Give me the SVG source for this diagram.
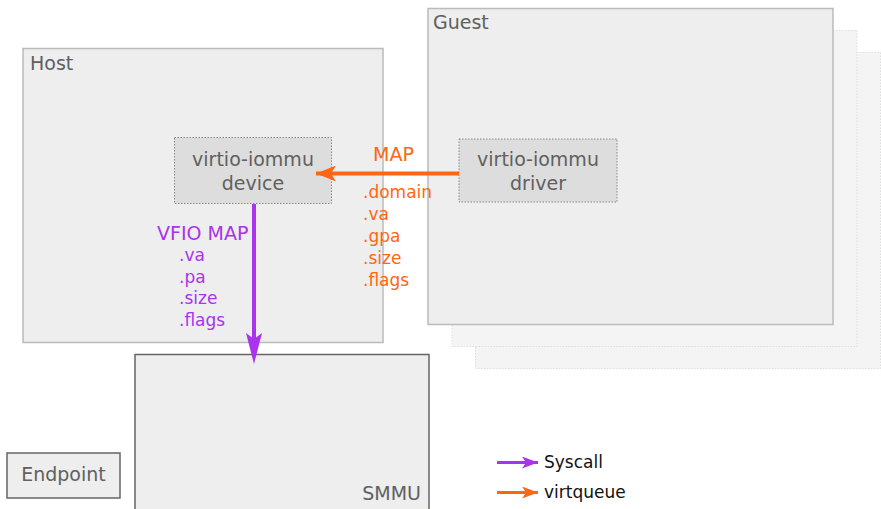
<svg xmlns="http://www.w3.org/2000/svg" width="881" height="509" viewBox="0 0 881 509">
<defs>
<style>
text{font-family:"DejaVu Sans",sans-serif;font-size:19px;fill:#606060}
.f{font-size:17px}
.container{fill:#eeeeee;stroke:#bbbbbb;stroke-width:1.5}
.shadow{fill:#f4f4f4;stroke:#dddddd;stroke-width:1;stroke-dasharray:1.5 1.5}
.comp{fill:#dddddd;stroke:#888;stroke-width:1;stroke-dasharray:1.5 1.5}
.hw{fill:#eeeeee;stroke:#666;stroke-width:1.5}
.or{fill:#ff6611}
.pu{fill:#aa33ee}
.leg{fill:#111;font-size:17px}
</style>
<marker id="ao" viewBox="0 0 20 16" refX="20" refY="8" markerWidth="20" markerHeight="16" markerUnits="userSpaceOnUse" orient="auto"><path d="M0,0 L20,8 L0,16 L5,8 Z" fill="#ff6611"/></marker>
<marker id="apl" viewBox="0 0 16 12" refX="16" refY="6" markerWidth="16" markerHeight="12" markerUnits="userSpaceOnUse" orient="auto"><path d="M0,0 L16,6 L0,12 L4,6 Z" fill="#aa33ee"/></marker>
<marker id="aol" viewBox="0 0 16 12" refX="16" refY="6" markerWidth="16" markerHeight="12" markerUnits="userSpaceOnUse" orient="auto"><path d="M0,0 L16,6 L0,12 L4,6 Z" fill="#ff6611"/></marker>
</defs>
<g id="guest-shadow-2"><rect class="shadow" x="475.5" y="52.5" width="405" height="316"/></g>
<g id="guest-shadow-1"><rect class="shadow" x="452" y="30.5" width="405" height="316"/></g>
<g id="host"><rect class="container" x="23" y="48.5" width="360" height="294"/><text x="30" y="70">Host</text></g>
<g id="guest"><rect class="container" x="428" y="8.5" width="405" height="316"/><text x="433" y="29">Guest</text></g>
<g id="device"><rect class="comp" x="174.5" y="137.5" width="157" height="66"/><text x="253" y="166" text-anchor="middle">virtio-iommu</text><text x="253" y="190" text-anchor="middle">device</text></g>
<g id="driver"><rect class="comp" x="459" y="139" width="158" height="63"/><text x="538" y="166" text-anchor="middle">virtio-iommu</text><text x="538" y="190" text-anchor="middle">driver</text></g>
<g id="smmu"><rect class="hw" x="135" y="354.5" width="294" height="160"/><text x="421" y="500" text-anchor="end">SMMU</text></g>
<g id="endpoint"><rect class="hw" x="7" y="453" width="113" height="45"/><text x="63.5" y="481" text-anchor="middle">Endpoint</text></g>
<g id="connectors">
<line x1="459" y1="173.5" x2="316" y2="173.5" stroke="#ff6611" stroke-width="4" marker-end="url(#ao)"/>
<path d="M254,204 L254,340" stroke="#aa33ee" stroke-width="4" fill="none"/>
<path d="M246,333 L254,364 L262,333 L254,339 Z" fill="#aa33ee"/>
<text class="or" x="373" y="161">MAP</text>
<text class="or f" x="363" y="198">.domain</text>
<text class="or f" x="363" y="220">.va</text>
<text class="or f" x="363" y="242">.gpa</text>
<text class="or f" x="363" y="264">.size</text>
<text class="or f" x="363" y="286">.flags</text>
<text class="pu" x="157" y="240">VFIO MAP</text>
<text class="pu f" x="179" y="261">.va</text>
<text class="pu f" x="179" y="283">.pa</text>
<text class="pu f" x="179" y="304">.size</text>
<text class="pu f" x="179" y="326">.flags</text>
</g>
<g id="legend">
<line x1="497" y1="462.5" x2="538" y2="462.5" stroke="#aa33ee" stroke-width="3" marker-end="url(#apl)"/>
<text class="leg" x="544" y="468">Syscall</text>
<line x1="497" y1="492.5" x2="538" y2="492.5" stroke="#ff6611" stroke-width="3" marker-end="url(#aol)"/>
<text class="leg" x="544" y="498">virtqueue</text>
</g>
</svg>
